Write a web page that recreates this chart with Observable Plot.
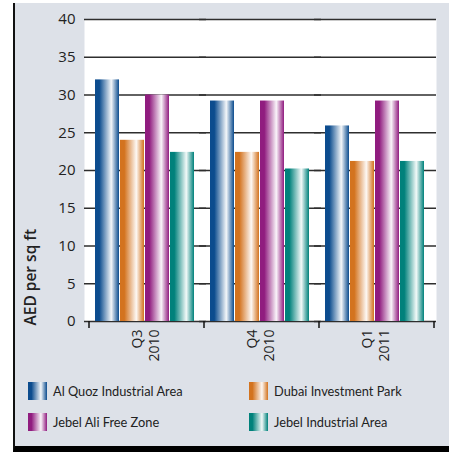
<!DOCTYPE html>
<html>
<head>
<meta charset="utf-8">
<script src="https://cdn.jsdelivr.net/npm/d3@7"></script>
<script src="https://cdn.jsdelivr.net/npm/@observablehq/plot@0.6"></script>
<style>
  body { margin: 0; background: #fff; }
  #page { position: relative; width: 449px; height: 452px; overflow: hidden; background: #fff; font-family: Lato, sans-serif; color: #222; }
  #panel { position: absolute; left: 13px; top: 3px; width: 434px; height: 443px; background: #dde1e8; border-left: 2px solid #111; border-bottom: 6px solid #000; }
  #chart { position: absolute; left: 0; top: 0; }
  #legend { position: absolute; left: 28px; top: 382px; display: grid; grid-template-columns: 221px auto; row-gap: 13px; }
  .item { display: flex; align-items: center; height: 18px; font-size: 12.8px; }
  .swatch { width: 19px; height: 18px; margin-right: 6px; flex: none; }
</style>
</head>
<body>
<div id="page">
  <div id="panel"></div>
  <div id="chart"></div>
  <div id="legend"></div>
</div>
<script>
// Industrial rents, AED per sq ft, by quarter
const quarters = ["Q3 2010", "Q4 2010", "Q1 2011"];
const quarterLabels = ["Q3\n2010", "Q4\n2010", "Q1\n2011"];
const areas = ["Al Quoz Industrial Area", "Dubai Investment Park", "Jebel Ali Free Zone", "Jebel Industrial Area"];
const alQuoz = [32.0, 29.2, 25.9];
const dubaiInvestmentPark = [24.0, 22.4, 21.2];
const jebelAliFreeZone = [30.0, 29.2, 29.2];
const jebelIndustrial = [22.4, 20.2, 21.2];
const yTicks = [0, 5, 10, 15, 20, 25, 30, 35, 40];
const yLabel = "AED per sq ft";

const areaColors = ["#0c4c8e", "#d3731f", "#901c7f", "#00817b"];
const seriesValues = [alQuoz, dubaiInvestmentPark, jebelAliFreeZone, jebelIndustrial];

const rows = areas.flatMap((area, i) =>
  quarters.map((quarter, j) => ({area, quarter, value: seriesValues[i][j]}))
);

// metallic-looking horizontal shading for each series
const shade = c => [
  [0, c], [0.18, c],
  [0.68, d3.interpolateRgb(c, "#fff")(0.95)],
  [0.88, d3.interpolateRgb(c, "#fff")(0.35)],
  [1, c]
];

const plot = Plot.plot({
  width: 449,
  height: 370,
  marginTop: 19,
  marginBottom: 49,
  marginLeft: 89,
  marginRight: 15,
  style: {background: "transparent", fontFamily: "'Open Sans', sans-serif", color: "#222", overflow: "visible"},
  fx: {domain: quarters, padding: 0, axis: null},
  x: {domain: areas, paddingInner: 0.04, paddingOuter: 0.32, align: 0.4, axis: null},
  y: {domain: [0, 40], axis: null},
  marks: [
    Plot.frame({fill: "#fff", stroke: null, insetLeft: -5, insetRight: -2}),
    Plot.gridY(yTicks, {stroke: "#2e2e2e", strokeOpacity: 1, strokeWidth: 1.5, insetLeft: -5, insetRight: -2}),
    ...areas.map((area, i) =>
      Plot.barY(rows.filter(d => d.area === area), {
        fx: "quarter", x: "area", y: "value", fill: `url(#bar-grad-${i})`
      })
    ),
    Plot.axisY(yTicks, {tickSize: 0, tickPadding: 14, fontSize: 15, label: null}),
    Plot.text(quarters, {
      fx: d => d, text: (d, i) => quarterLabels[i],
      frameAnchor: "bottom", rotate: -90, textAnchor: "end", lineAnchor: "middle",
      dx: -2, dy: 8, fontSize: 14, lineHeight: 1.2
    }),
    Plot.text([yLabel], {
      fx: () => quarters[0], text: d => d,
      frameAnchor: "bottom-left", rotate: -90, textAnchor: "start",
      dx: -54, dy: 4, fontSize: 15.5, fontWeight: 600
    })
  ]
});

const svg = d3.select(plot);
const defs = svg.insert("defs", ":first-child");
areaColors.forEach((c, i) => {
  const g = defs.append("linearGradient")
    .attr("id", `bar-grad-${i}`)
    .attr("x1", 0).attr("x2", 1).attr("y1", 0).attr("y2", 0);
  shade(c).forEach(([o, col]) => g.append("stop").attr("offset", o).attr("stop-color", col));
});

// group separator ticks below the baseline
const fx = plot.scale("fx");
const y = plot.scale("y");
const edges = quarters.map(q => fx.apply(q)).concat(fx.apply(quarters[quarters.length - 1]) + fx.bandwidth);
svg.append("g")
  .attr("stroke", "#111")
  .attr("stroke-width", 1.5)
  .selectAll("line")
  .data(edges)
  .join("line")
  .attr("x1", d => d).attr("x2", d => d)
  .attr("y1", y.apply(0)).attr("y2", y.apply(0) + 7);

document.getElementById("chart").append(plot);

// legend
const legend = d3.select("#legend");
areas.forEach((area, i) => {
  const item = legend.append("div").attr("class", "item");
  const stops = shade(areaColors[i]).map(([o, c]) => `${c} ${o * 100}%`).join(", ");
  item.append("div").attr("class", "swatch").style("background", `linear-gradient(to right, ${stops})`);
  item.append("span").text(area);
});
</script>
</body>
</html>
